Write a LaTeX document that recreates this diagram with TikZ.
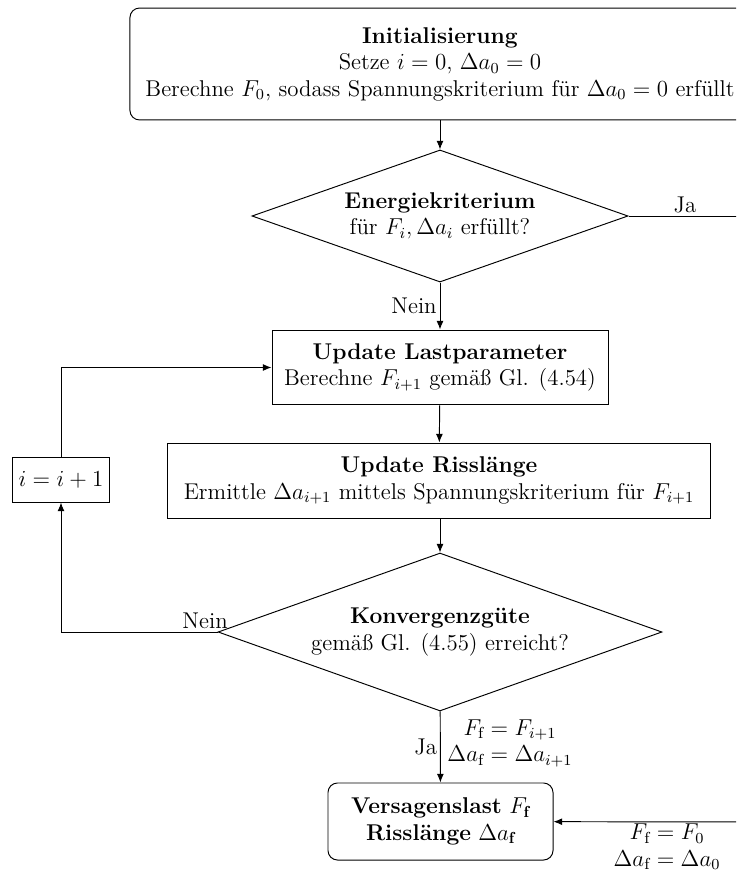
\documentclass[tikz,border=0pt]{standalone}
\usepackage{fontspec}
\usepackage{amsmath}
\usetikzlibrary{shapes.geometric,arrows.meta}
\begin{document}
\begin{tikzpicture}[x=0.5217pt,y=-0.5217pt,line width=0.5pt,
  font={\fontsize{11.9}{13}\selectfont},
  box/.style={draw,rectangle,align=center,inner sep=0pt},
  rbox/.style={draw,rectangle,rounded corners=5pt,align=center,inner sep=0pt},
  dec/.style={draw,diamond,align=center,inner sep=0pt,aspect=2.8},
  conn/.style={draw,-{Latex[length=4.5pt,width=3.6pt]}},
  lbl/.style={inner sep=1.5pt,align=center}]
\useasboundingbox (0,0) rectangle (736,872);
\clip (0,0) rectangle (736,872);

\node[rbox,minimum width=323.5pt,minimum height=58.4pt] (init) at (440,64)
  {\textbf{Initialisierung}\\[0.8pt] Setze $i=0$, $\Delta a_0=0$\\[0.8pt] Berechne $F_0$, sodass Spannungskriterium für $\Delta a_0=0$ erfüllt};

\node[dec,minimum width=196.2pt,minimum height=68.9pt] (energie) at (440,216)
  {\textbf{Energiekriterium}\\[0.8pt] für $F_i,\Delta a_i$ erfüllt?};

\node[box,minimum width=175.3pt,minimum height=39.1pt] (last) at (440,367.5)
  {\textbf{Update Lastparameter}\\[0.8pt] Berechne $F_{i+1}$ gemäß Gl. (4.54)};

\node[box,minimum width=282.8pt,minimum height=39.1pt] (riss) at (439,480.5)
  {\textbf{Update Risslänge}\\[0.8pt] Ermittle $\Delta a_{i+1}$ mittels Spannungskriterium für $F_{i+1}$};

\node[box,minimum width=51.1pt,minimum height=23pt] (inc) at (61,480) {$i=i+1$};

\node[dec,minimum width=231.6pt,minimum height=82.4pt] (konv) at (440,632)
  {\textbf{Konvergenzgüte}\\[0.8pt] gemäß Gl. (4.55) erreicht?};

\node[rbox,minimum width=117.4pt,minimum height=40.2pt] (vers) at (440.5,821.5)
  {\textbf{Versagenslast} $F_{\mathbf{f}}$\\[0.8pt] \textbf{Risslänge} $\Delta a_{\mathbf{f}}$};

\coordinate (jr) at (760,216);
\coordinate (jb) at (760,822);
\coordinate (nl) at (inc.south |- konv.west);
\coordinate (ul) at (inc.north |- last.west);

\draw[conn] (init) -- (energie);
\draw[conn] (energie) -- node[lbl,left,pos=0.5]{Nein} (last);
\draw[conn] (last) -- (riss);
\draw[conn] (riss.south -| konv.north) -- (konv);
\draw[conn] (konv) -- node[lbl,left]{Ja} node[lbl,right,xshift=2pt,yshift=2pt]{$F_{\mathrm{f}}=F_{i+1}$\\[0.8pt] $\Delta a_{\mathrm{f}}=\Delta a_{i+1}$} (vers);
\draw[conn] (konv.west) -- node[lbl,above,pos=0.08]{Nein} (nl) -- (inc.south);
\draw[conn] (inc.north) -- (ul) -- (last.west);
\draw (energie.east) -- node[lbl,above,pos=0.43]{Ja} (jr) -- (jb);
\draw[conn] (jb) -- node[lbl,below,pos=0.45,inner sep=1pt]{$F_{\mathrm{f}}=F_0$\\[0.8pt] $\Delta a_{\mathrm{f}}=\Delta a_0$} (vers);
\end{tikzpicture}
\end{document}
